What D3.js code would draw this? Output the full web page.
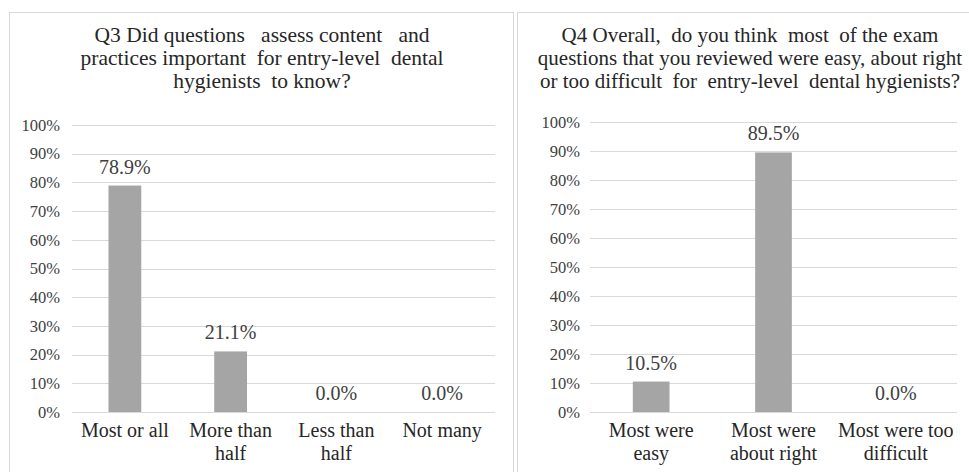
<!DOCTYPE html>
<html>
<head>
<meta charset="utf-8">
<script src="https://cdn.jsdelivr.net/npm/d3@7"></script>
<style>
  html, body { margin: 0; padding: 0; background: #fff; }
  svg { display: block; }
  text { font-family: "Liberation Serif", "Times New Roman", serif; }
</style>
</head>
<body>
<svg id="chart" width="969" height="472"></svg>
<script>
// ---- Data ----
const q3Title = ["Q3 Did questions   assess content   and", "practices important  for entry-level  dental", "hygienists  to know?"];
const q3Categories = [["Most or all"], ["More than", "half"], ["Less than", "half"], ["Not many"]];
const q3Values = [0.789, 0.211, 0.0, 0.0];

const q4Title = ["Q4 Overall,  do you think  most  of the exam", "questions that you reviewed were easy, about right", "or too difficult  for  entry-level  dental hygienists?"];
const q4Categories = [["Most were", "easy"], ["Most were", "about right"], ["Most were too", "difficult"]];
const q4Values = [0.105, 0.895, 0.0];

const yTicks = [0, 0.1, 0.2, 0.3, 0.4, 0.5, 0.6, 0.7, 0.8, 0.9, 1.0];

const svg = d3.select("#chart");

function panel(cfg) {
  const g = svg.append("g");
  // panel border
  g.append("rect")
    .attr("x", cfg.px + 0.5).attr("y", cfg.py + 0.5)
    .attr("width", cfg.pw).attr("height", cfg.ph)
    .attr("fill", "#fff").attr("stroke", "#d9d9d9").attr("stroke-width", 1);

  // title
  const t = g.append("text")
    .attr("x", cfg.titleX).attr("y", cfg.titleY)
    .attr("text-anchor", "middle")
    .attr("font-size", cfg.titleSize)
    .attr("fill", "#262626")
    .style("white-space", "pre");
  cfg.title.forEach((line, i) => {
    t.append("tspan").attr("x", cfg.titleX).attr("dy", i === 0 ? 0 : cfg.titleLH).text(line);
  });

  const x = d3.scaleBand()
    .domain(d3.range(cfg.values.length))
    .range([cfg.x0, cfg.x1])
    .paddingInner(cfg.pad).paddingOuter(cfg.pad / 2);
  const y = d3.scaleLinear().domain([0, 1]).range([cfg.y0, cfg.y1]);

  // gridlines
  g.append("g").selectAll("line").data(yTicks).join("line")
    .attr("x1", cfg.x0).attr("x2", cfg.x1)
    .attr("y1", d => Math.round(y(d)) + 0.5).attr("y2", d => Math.round(y(d)) + 0.5)
    .attr("stroke", "#d9d9d9").attr("stroke-width", 1);

  // y axis labels
  const yAxis = d3.axisLeft(y).tickValues(yTicks).tickFormat(d3.format(".0%")).tickSize(0).tickPadding(cfg.tickPad);
  const ya = g.append("g").attr("transform", `translate(${cfg.x0},0)`).call(yAxis);
  ya.select(".domain").remove();
  ya.selectAll("text")
    .attr("font-family", "Liberation Serif, serif")
    .attr("font-size", 16.5).attr("fill", "#404040");

  // bars
  g.append("g").selectAll("rect").data(cfg.values).join("rect")
    .attr("x", (d, i) => x(i)).attr("width", x.bandwidth())
    .attr("y", d => y(d)).attr("height", d => y(0) - y(d))
    .attr("fill", "#a5a5a5");

  // data labels
  g.append("g").selectAll("text").data(cfg.values).join("text")
    .attr("x", (d, i) => x(i) + x.bandwidth() / 2)
    .attr("y", d => y(d) - 12)
    .attr("text-anchor", "middle")
    .attr("font-size", 20).attr("fill", "#404040")
    .text(d => d3.format(".1%")(d));

  // category labels
  const cl = g.append("g").selectAll("text").data(cfg.categories).join("text")
    .attr("text-anchor", "middle")
    .attr("font-size", 20).attr("fill", "#262626");
  cl.each(function (lines, i) {
    const cx = x(i) + x.bandwidth() / 2;
    d3.select(this).selectAll("tspan").data(lines).join("tspan")
      .attr("x", cx).attr("y", (s, j) => cfg.catY + j * 23).text(s => s);
  });
}

panel({
  px: 9, py: 12, pw: 504, ph: 480,
  title: q3Title, titleX: 262, titleY: 42, titleSize: 21.5, titleLH: 23,
  values: q3Values, categories: q3Categories,
  x0: 72, x1: 495, y0: 412, y1: 125, pad: 0.69, tickPad: 12,
  catY: 437
});

panel({
  px: 517, py: 12, pw: 470, ph: 480,
  title: q4Title, titleX: 750, titleY: 42, titleSize: 21, titleLH: 23,
  values: q4Values, categories: q4Categories,
  x0: 590, x1: 957, y0: 412, y1: 122, pad: 0.70, tickPad: 10,
  catY: 437
});
</script>
</body>
</html>
